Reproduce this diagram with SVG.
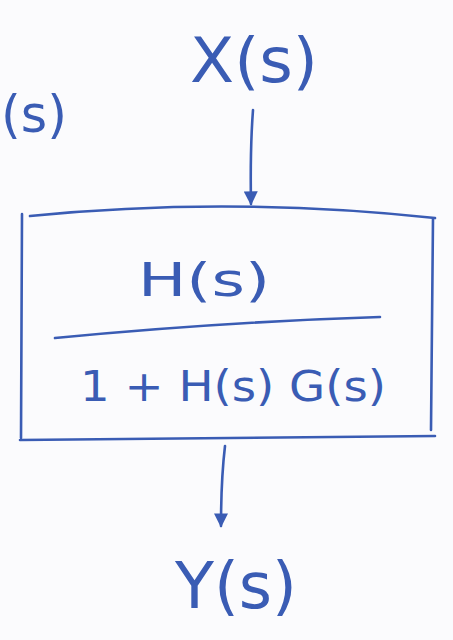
<svg xmlns="http://www.w3.org/2000/svg" width="453" height="640" viewBox="0 0 453 640">
<style>
.ink{fill:none;stroke:#3a5cb4;stroke-width:2.6;stroke-linecap:round;stroke-linejoin:round}
.t{fill:#3a5cb4;font-family:"DejaVu Sans","Liberation Sans",sans-serif;font-weight:normal}
</style>
<defs>
<marker id="ah" viewBox="0 0 10 10" refX="9" refY="5" markerWidth="16" markerHeight="14" orient="auto" markerUnits="userSpaceOnUse">
<path d="M0,0 L10,5 L0,10 z" fill="#3a5cb4"/>
</marker>
</defs>
<rect width="453" height="640" fill="#fbfbfd"/>
<g id="left-label"><text class="t" x="1" y="132" font-size="52" textLength="66" lengthAdjust="spacingAndGlyphs">(s)</text></g>
<g id="input"><text class="t" x="190" y="82" font-size="62" textLength="128" lengthAdjust="spacingAndGlyphs">X(s)</text></g>
<g id="block">
<path class="ink" d="M30,216 Q230,196 435,218 M22,214 L21,438 M20,440 Q230,438 435,436 M433,218 L431,430"/>
<text class="t" x="138" y="296" font-size="46" textLength="132" lengthAdjust="spacingAndGlyphs">H(s)</text>
<path class="ink" d="M55,338 Q220,322 380,317"/>
<text class="t" x="80" y="401" font-size="42" textLength="306" lengthAdjust="spacingAndGlyphs">1 + H(s) G(s)</text>
</g>
<g id="output"><text class="t" x="175" y="608" font-size="64" textLength="122" lengthAdjust="spacingAndGlyphs">Y(s)</text></g>
<g id="connectors">
<path class="ink" d="M253,110 Q250,150 251,204" marker-end="url(#ah)"/>
<path class="ink" d="M225,446 Q221,480 221,526" marker-end="url(#ah)"/>
</g>
</svg>
